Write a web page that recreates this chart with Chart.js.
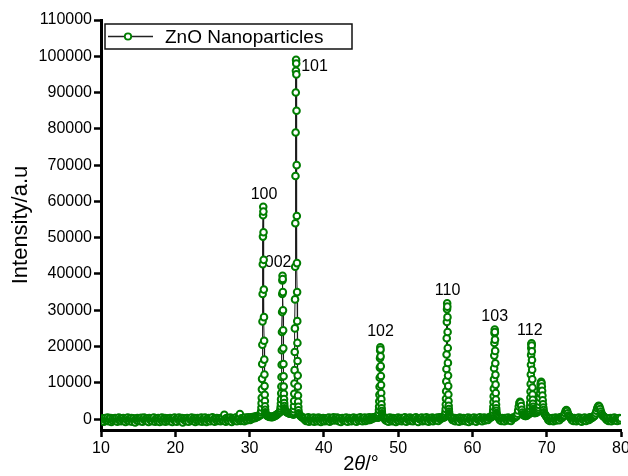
<!DOCTYPE html>
<html>
<head>
<meta charset="utf-8">
<script src="https://cdn.jsdelivr.net/npm/chart.js@4.4.1/dist/chart.umd.min.js"></script>
<style>
  html, body { margin: 0; padding: 0; background: #fff; }
  #wrap { width: 628px; height: 476px; }
</style>
</head>
<body>
<div id="wrap"><canvas id="xrd"></canvas></div>
<script>
// ── ZnO nanoparticle XRD pattern ────────────────────────────────────────────
const FONT = '"Liberation Sans", Arial, Helvetica, sans-serif';

// 2θ positions (deg), one block per region of the scan
const twoTheta = [
  10.0, 10.1, 10.2, 10.3, 10.4, 10.5, 10.6, 10.7, 10.8, 10.9,
  11.0, 11.1, 11.2, 11.3, 11.4, 11.5, 11.6, 11.7, 11.8, 11.9,
  12.0, 12.1, 12.2, 12.3, 12.4, 12.5, 12.6, 12.7, 12.8, 12.9,
  13.0, 13.1, 13.2, 13.3, 13.4, 13.5, 13.6, 13.7, 13.8, 13.9,
  14.0, 14.1, 14.2, 14.3, 14.4, 14.5, 14.6, 14.7, 14.8, 14.9,
  15.0, 15.1, 15.2, 15.3, 15.4, 15.5, 15.6, 15.7, 15.8, 15.9,
  16.0, 16.1, 16.2, 16.3, 16.4, 16.5, 16.6, 16.7, 16.8, 16.9,
  17.0, 17.1, 17.2, 17.3, 17.4, 17.5, 17.6, 17.7, 17.8, 17.9,
  18.0, 18.1, 18.2, 18.3, 18.4, 18.5, 18.6, 18.7, 18.8, 18.9,
  19.0, 19.1, 19.2, 19.3, 19.4, 19.5, 19.6, 19.7, 19.8, 19.9,
  20.0, 20.1, 20.2, 20.3, 20.4, 20.5, 20.6, 20.7, 20.8, 20.9,
  21.0, 21.1, 21.2, 21.3, 21.4, 21.5, 21.6, 21.7, 21.8, 21.9,
  22.0, 22.1, 22.2, 22.3, 22.4, 22.5, 22.6, 22.7, 22.8, 22.9,
  23.0, 23.1, 23.2, 23.3, 23.4, 23.5, 23.6, 23.7, 23.8, 23.9,
  24.0, 24.1, 24.2, 24.3, 24.4, 24.5, 24.6, 24.7, 24.8, 24.9,
  25.0, 25.1, 25.2, 25.3, 25.4, 25.5, 25.6, 25.7, 25.8, 25.9,
  26.0, 26.1, 26.2, 26.3, 26.4, 26.5, 26.6, 26.7, 26.8, 26.9,
  27.0, 27.1, 27.2, 27.3, 27.4, 27.5, 27.6, 27.7, 27.8, 27.9,
  28.0, 28.1, 28.2, 28.3, 28.4, 28.5, 28.6, 28.7, 28.8, 28.9,
  29.0, 29.1, 29.2, 29.3, 29.4, 29.5, 29.6, 29.7, 29.8, 29.9,
  30.0, 30.1, 30.2, 30.3, 30.4, 30.5, 30.6, 30.7, 30.8, 30.9,
  31.0, 31.1, 31.2, 31.3, 31.4,
  // (100)
  31.54, 31.56, 31.58, 31.60, 31.62, 31.64, 31.66, 31.68, 31.70, 31.72, 31.74, 31.76, 31.78, 31.80, 31.82, 31.84,
  31.86, 31.88, 31.90, 31.92, 31.94, 31.96, 31.98, 32.00, 32.02, 32.04, 32.06, 32.08, 32.10, 32.12, 32.14,
  32.2, 32.3, 32.4, 32.5, 32.6, 32.7, 32.8, 32.9, 33.0, 33.1, 33.2, 33.3, 33.4, 33.5, 33.6, 33.7, 33.8, 33.9, 34.0,
  // (002)
  34.14, 34.16, 34.18, 34.20, 34.22, 34.24, 34.26, 34.28, 34.30, 34.32, 34.34, 34.36, 34.38, 34.40, 34.42, 34.44,
  34.46, 34.48, 34.50, 34.52, 34.54, 34.56, 34.58, 34.60, 34.62, 34.64, 34.66, 34.68, 34.70, 34.72, 34.74,
  34.8, 34.9, 35.0, 35.1, 35.2, 35.3, 35.4, 35.5, 35.6, 35.7, 35.8,
  // (101)
  35.90, 35.92, 35.94, 35.96, 35.98, 36.00, 36.02, 36.04, 36.06, 36.08, 36.10, 36.12, 36.14, 36.16, 36.18, 36.20,
  36.22, 36.24, 36.26, 36.28, 36.30, 36.32, 36.34, 36.36, 36.38, 36.40, 36.42, 36.44, 36.46, 36.48, 36.50, 36.52,
  36.54, 36.56, 36.58, 36.60,
  36.7, 36.8, 36.9, 37.0, 37.1, 37.2,
  37.3, 37.4, 37.5, 37.6, 37.7, 37.8, 37.9, 38.0, 38.1, 38.2,
  38.3, 38.4, 38.5, 38.6, 38.7, 38.8, 38.9, 39.0, 39.1, 39.2,
  39.3, 39.4, 39.5, 39.6, 39.7, 39.8, 39.9, 40.0, 40.1, 40.2,
  40.3, 40.4, 40.5, 40.6, 40.7, 40.8, 40.9, 41.0, 41.1, 41.2,
  41.3, 41.4, 41.5, 41.6, 41.7, 41.8, 41.9, 42.0, 42.1, 42.2,
  42.3, 42.4, 42.5, 42.6, 42.7, 42.8, 42.9, 43.0, 43.1, 43.2,
  43.3, 43.4, 43.5, 43.6, 43.7, 43.8, 43.9, 44.0, 44.1, 44.2,
  44.3, 44.4, 44.5, 44.6, 44.7, 44.8, 44.9, 45.0, 45.1, 45.2,
  45.3, 45.4, 45.5, 45.6, 45.7, 45.8, 45.9, 46.0, 46.1, 46.2,
  46.3, 46.4, 46.5, 46.6, 46.7, 46.8, 46.9, 47.0, 47.1, 47.2,
  // (102)
  47.30, 47.32, 47.34, 47.36, 47.38, 47.40, 47.42, 47.44, 47.46, 47.48, 47.50, 47.52, 47.54, 47.56, 47.58, 47.60,
  47.62, 47.64, 47.66, 47.68, 47.70, 47.72, 47.74, 47.76, 47.78, 47.80, 47.82, 47.84, 47.86, 47.88, 47.90,
  48.0, 48.1, 48.2, 48.3, 48.4, 48.5, 48.6, 48.7, 48.8, 48.9,
  49.0, 49.1, 49.2, 49.3, 49.4, 49.5, 49.6, 49.7, 49.8, 49.9,
  50.0, 50.1, 50.2, 50.3, 50.4, 50.5, 50.6, 50.7, 50.8, 50.9,
  51.0, 51.1, 51.2, 51.3, 51.4, 51.5, 51.6, 51.7, 51.8, 51.9,
  52.0, 52.1, 52.2, 52.3, 52.4, 52.5, 52.6, 52.7, 52.8, 52.9,
  53.0, 53.1, 53.2, 53.3, 53.4, 53.5, 53.6, 53.7, 53.8, 53.9,
  54.0, 54.1, 54.2, 54.3, 54.4, 54.5, 54.6, 54.7, 54.8, 54.9,
  55.0, 55.1, 55.2, 55.3, 55.4, 55.5, 55.6, 55.7, 55.8, 55.9,
  56.0, 56.1, 56.2,
  // (110)
  56.30, 56.32, 56.34, 56.36, 56.38, 56.40, 56.42, 56.44, 56.46, 56.48, 56.50, 56.52, 56.54, 56.56, 56.58, 56.60,
  56.62, 56.64, 56.66, 56.68, 56.70, 56.72, 56.74, 56.76, 56.78, 56.80, 56.82, 56.84, 56.86, 56.88, 56.90,
  57.0, 57.1, 57.2, 57.3, 57.4, 57.5, 57.6, 57.7, 57.8, 57.9,
  58.0, 58.1, 58.2, 58.3, 58.4, 58.5, 58.6, 58.7, 58.8, 58.9,
  59.0, 59.1, 59.2, 59.3, 59.4, 59.5, 59.6, 59.7, 59.8, 59.9,
  60.0, 60.1, 60.2, 60.3, 60.4, 60.5, 60.6, 60.7, 60.8, 60.9,
  61.0, 61.1, 61.2, 61.3, 61.4, 61.5, 61.6, 61.7, 61.8, 61.9,
  62.0, 62.1, 62.2, 62.3, 62.4, 62.5, 62.6,
  // (103)
  62.70, 62.72, 62.74, 62.76, 62.78, 62.80, 62.82, 62.84, 62.86, 62.88, 62.90, 62.92, 62.94, 62.96, 62.98, 63.00,
  63.02, 63.04, 63.06, 63.08, 63.10, 63.12, 63.14, 63.16, 63.18, 63.20, 63.22, 63.24, 63.26, 63.28, 63.30,
  63.4, 63.5, 63.6, 63.7, 63.8, 63.9, 64.0, 64.1, 64.2, 64.3,
  64.4, 64.5, 64.6, 64.7, 64.8, 64.9, 65.0, 65.1, 65.2, 65.3,
  65.4, 65.5, 65.6, 65.7, 65.8, 65.9,
  // (200)
  66.00, 66.08, 66.16, 66.24, 66.32, 66.40, 66.48, 66.56, 66.64, 66.72, 66.80,
  66.9, 67.0, 67.1, 67.2, 67.3, 67.4, 67.5, 67.6,
  // (112)
  67.66, 67.68, 67.70, 67.72, 67.74, 67.76, 67.78, 67.80, 67.82, 67.84, 67.86, 67.88, 67.90, 67.92, 67.94, 67.96,
  67.98, 68.00, 68.02, 68.04, 68.06, 68.08, 68.10, 68.12, 68.14, 68.16, 68.18, 68.20, 68.22, 68.24, 68.26,
  68.3, 68.4, 68.5, 68.6, 68.7, 68.8,
  // (201)
  68.86, 68.90, 68.94, 68.98, 69.02, 69.06, 69.10, 69.14, 69.18, 69.22, 69.26, 69.30, 69.34, 69.38, 69.42, 69.46,
  69.50, 69.54, 69.58, 69.62,
  69.7, 69.8, 69.9, 70.0, 70.1, 70.2, 70.3, 70.4, 70.5, 70.6,
  70.7, 70.8, 70.9, 71.0, 71.1, 71.2, 71.3, 71.4, 71.5, 71.6,
  71.7, 71.8, 71.9, 72.0, 72.1, 72.2, 72.3,
  // (004)
  72.35, 72.45, 72.55, 72.65, 72.75, 72.85, 72.95,
  73.0, 73.1, 73.2, 73.3, 73.4, 73.5, 73.6, 73.7, 73.8, 73.9,
  74.0, 74.1, 74.2, 74.3, 74.4, 74.5, 74.6, 74.7, 74.8, 74.9,
  75.0, 75.1, 75.2, 75.3, 75.4, 75.5, 75.6, 75.7, 75.8, 75.9,
  76.0, 76.1, 76.2, 76.3,
  // (202)
  76.4, 76.5, 76.6, 76.7, 76.8, 76.9, 77.0, 77.1, 77.2, 77.3, 77.4, 77.5, 77.6,
  77.7, 77.8, 77.9, 78.0, 78.1, 78.2, 78.3, 78.4, 78.5, 78.6,
  78.7, 78.8, 78.9, 79.0, 79.1, 79.2, 79.3, 79.4, 79.5, 79.6,
  79.7, 79.8, 79.9, 80.0,
];

// intensity (a.u.), same layout as twoTheta
const intensity = [
  -300, 100, -500, 200, -700, 0, 300, -400, -100, 400,
  -600, 100, -300, 300, -800, -200, 200, -500, 0, 300,
  -400, 200, -700, -100, 400, -300, 100, -600, 200, -200,
  300, -500, 0, -800, 200, -300, 400, -100, -600, 100,
  -200, 300, -700, 0, 200, -400, -900, 100, -300, 300,
  -500, 200, 0, -600, 350, -200, -700, 100, 400, -300,
  0, -500, 200, -200, -800, 300, -100, -400, 200, -600,
  100, 400, -300, -700, 0, 200, -500, 300, -200, -800,
  200, -300, 400, -600, 0, -200, 300, -700, 100, -400,
  250, -100, -600, 300, -300, 100, -800, 200, -200, 450,
  -400, 0, -700, 200, -100, 400, -500, 100, -300, 300,
  -900, 0, 200, -400, 100, -600, 300, -200, -700, 200,
  100, -300, 400, -500, 0, -200, 300, -800, 200, -400,
  300, -100, -600, 200, -300, 400, -700, 0, 100, -500,
  400, -200, -800, 100, -300, 300, 0, -600, 200, -100,
  500, -400, 0, -700, 200, -200, 300, -500, 100, -300,
  200, -600, 100, -200, 400, -400, 1200, 0, -700, 300,
  -300, 200, -500, 100, 400, -200, -800, 300, 0, -400,
  100, -300, 500, -600, 200, -100, 300, 1400, -500, 200,
  -400, 300, 0, -600, 400, -200, 100, -300, 500, 0,
  300, -200, 500, 100, 600, 200, 400, 700, 300, 800,
  600, 900, 700, 1000, 1100,
  // (100)
  1200, 1800, 2300, 3200, 4400, 5900, 8200, 11100, 15200, 20500, 26900, 34500, 42700, 50300, 56200, 58500,
  57200, 51500, 43900, 35700, 28100, 21600, 16400, 12300, 9100, 6700, 5000, 3500, 2600, 1900, 1500,
  1300, 1100, 900, 800, 700, 600, 700, 600, 500, 600, 800, 700, 900, 1000, 1100, 1300, 1400, 1600, 1800,
  // (002)
  2000, 2400, 2900, 3500, 4300, 5500, 7100, 9000, 11600, 15000, 19000, 24000, 29500, 34500, 38200, 39500,
  38600, 35000, 30000, 24500, 19500, 15200, 11800, 9000, 7000, 5500, 4400, 3600, 3000, 2600, 2400,
  2300, 2100, 1900, 1800, 1700, 1600, 1500, 1500, 1600, 1700, 1900,
  // (101)
  1200, 1500, 2000, 2700, 3600, 5000, 7000, 9800, 13500, 18500, 25000, 33000, 42000, 54000, 67000, 79000,
  90000, 96000, 99000, 98000, 95000, 85000, 70000, 56000, 43000, 35000, 27000, 21000, 16000, 12000, 9000, 6500,
  4800, 3400, 2400, 1600,
  1300, 1000, 800, 600, 500, 400,
  200, -100, 300, -500, 100, -400, 500, -700, 0, 300,
  -500, 200, -300, 400, -700, 100, -200, 300, -600, 0,
  400, -300, 200, -800, 100, -400, 300, -100, -600, 200,
  0, -500, 300, -200, 400, -700, 100, -300, 200, -100,
  500, -400, 100, 300, -200, 400, 0, -600, 200, -300,
  -800, 100, 300, -400, 0, 200, -500, 400, -200, -700,
  100, 300, -300, 0, -600, 200, -100, 400, -500, 100,
  -200, -700, 300, 0, -400, 200, 500, -300, 100, -600,
  200, -100, 400, -500, 0, 300, -300, 100, 500, -200,
  300, 0, 400, 200, 500, 300, 600, 500, 700, 600,
  // (102)
  400, 500, 650, 850, 1200, 1700, 2500, 3500, 4900, 6700, 8900, 11400, 14200, 16800, 18900, 19800,
  19200, 17300, 14600, 11900, 9400, 7200, 5500, 4100, 3000, 2200, 1600, 1200, 900, 650, 500,
  600, 400, 200, -300, 100, -500, 300, -700, 0, 400,
  -200, 100, -600, 300, -400, 200, 0, -800, 100, -300,
  400, -500, 200, -100, 300, -600, 0, 200, -400, 500,
  -200, -700, 100, 300, -300, 0, 400, -500, 200, -100,
  -600, 300, 0, -300, 500, -400, 100, -800, 200, 0,
  300, -200, 400, -600, 100, -300, 200, -500, 500, -100,
  0, -700, 300, -200, 100, -400, 400, -600, 200, 0,
  -300, 300, -100, 400, -500, 200, 500, 0, 300, 400,
  500, 400, 600,
  // (110)
  600, 800, 1100, 1500, 2000, 2800, 4000, 5600, 7700, 10400, 13800, 17800, 22300, 26800, 30300, 31900,
  31000, 28100, 24000, 19600, 15500, 12000, 9100, 6800, 5000, 3700, 2800, 2100, 1600, 1200, 900,
  700, 500, 300, -200, 100, -400, 300, -600, 0, 200,
  -300, 100, -700, 400, -100, 200, -500, 0, 300, -400,
  200, -600, 100, -200, 400, -800, 0, 300, -300, 100,
  -500, 200, 400, -400, 0, -700, 300, -100, 200, -300,
  500, -200, 0, -600, 300, -100, 400, -400, 200, 0,
  300, -200, 400, 500, 300, 600, 700,
  // (103)
  700, 900, 1100, 1400, 1900, 2500, 3400, 4700, 6300, 8400, 11000, 14000, 17500, 21000, 23700, 24700,
  24000, 21900, 18800, 15400, 12200, 9500, 7200, 5400, 4000, 3000, 2300, 1700, 1300, 1000, 800,
  700, 500, 200, -300, 100, -500, 300, -200, 0, -600,
  300, -100, 200, -400, 400, 0, -300, 200, -500, 300,
  100, 400, 300, 600, 500, 800,
  // (200)
  900, 1500, 2400, 3500, 4400, 4800, 4500, 3600, 2600, 1800, 1300,
  1100, 1000, 900, 900, 1000, 1100, 1300, 1400,
  // (112)
  1500, 1700, 2000, 2400, 2900, 3600, 4600, 5900, 7600, 9700, 12300, 15000, 17700, 19600, 20700, 20900,
  20300, 18700, 16300, 13600, 11000, 8700, 6800, 5300, 4200, 3400, 2800, 2400, 2100, 1900, 1800,
  1700, 1700, 1700, 1800, 1900, 2100,
  // (201)
  2300, 2700, 3200, 3900, 4800, 5900, 7100, 8400, 9500, 10100, 10300, 9900, 9000, 7800, 6500, 5200,
  4100, 3200, 2500, 1900,
  1500, 1200, 900, 600, 300, -200, 100, -500, 200, -300,
  0, 300, -600, 100, -200, 400, -400, 200, -100, 300,
  -300, 500, 200, 600, 400, 700, 900,
  // (004)
  1100, 1700, 2300, 2500, 2200, 1600, 1000,
  900, 700, 400, 100, -300, 200, -500, 300, -100, 0,
  -600, 200, -200, 400, -400, 100, 300, -700, 0, 200,
  -300, 400, -100, -500, 200, 0, 300, -200, 500, 100,
  400, 300, 600, 700,
  // (202)
  800, 1100, 1600, 2300, 3000, 3500, 3700, 3400, 2800, 2100, 1500, 1100, 800,
  700, 500, 300, 0, -200, 200, -500, 100, -300, 300,
  -600, 0, 200, -200, 400, -400, 100, -100, -500, 200,
  0, 300, -300, 200,
];

const xTicks = [10, 20, 30, 40, 50, 60, 70, 80];
const yTicks = [0, 10000, 20000, 30000, 40000, 50000, 60000, 70000, 80000, 90000, 100000, 110000];

// Miller indices written next to the reflections (label anchor in data units)
const peakNames  = ['100', '002', '101', '102', '110', '103', '112'];
const peakLabelX = [31.95, 33.85, 38.75, 47.63, 56.65, 63.0, 67.72];
const peakLabelY = [62000, 43100, 97100, 24000, 35400, 28200, 24500];

if (twoTheta.length !== intensity.length) console.error('length mismatch', twoTheta.length, intensity.length);

const GREEN = '#007d00';

const annotations = {
  id: 'annotations',
  beforeDatasetsDraw(chart) {
    const { ctx, scales: { x, y } } = chart;
    ctx.save();
    ctx.font = '16px ' + FONT;
    ctx.fillStyle = '#000';
    ctx.textAlign = 'center';
    ctx.textBaseline = 'middle';
    peakNames.forEach((t, i) => {
      ctx.fillText(t, x.getPixelForValue(peakLabelX[i]), y.getPixelForValue(peakLabelY[i]));
    });
    ctx.restore();
  },
  afterDraw(chart) {
    const { ctx, chartArea: a } = chart;
    ctx.save();

    // legend box
    const bx = a.left + 4, by = a.top + 4, bw = 247, bh = 25;
    ctx.fillStyle = '#fff';
    ctx.fillRect(bx, by, bw, bh);
    ctx.strokeStyle = '#111';
    ctx.lineWidth = 1.5;
    ctx.strokeRect(bx, by, bw, bh);
    const my = by + bh / 2;
    ctx.strokeStyle = '#222';
    ctx.lineWidth = 1.5;
    ctx.beginPath();
    ctx.moveTo(bx + 3, my);
    ctx.lineTo(bx + 48, my);
    ctx.stroke();
    ctx.beginPath();
    ctx.arc(bx + 23, my, 3.2, 0, Math.PI * 2);
    ctx.fillStyle = '#fff';
    ctx.fill();
    ctx.strokeStyle = GREEN;
    ctx.lineWidth = 1.8;
    ctx.stroke();
    ctx.fillStyle = '#000';
    ctx.font = '19px ' + FONT;
    ctx.textAlign = 'left';
    ctx.textBaseline = 'middle';
    ctx.fillText('ZnO Nanoparticles', bx + 60, my + 1);

    // x-axis title: 2θ/° with italic theta
    const parts = [['2', ''], ['θ', 'italic '], ['/°', '']];
    let total = 0;
    parts.forEach(p => { ctx.font = p[1] + '20px ' + FONT; total += ctx.measureText(p[0]).width; });
    let tx = (a.left + a.right) / 2 - total / 2;
    ctx.textBaseline = 'alphabetic';
    parts.forEach(p => {
      ctx.font = p[1] + '20px ' + FONT;
      ctx.fillText(p[0], tx, 470);
      tx += ctx.measureText(p[0]).width;
    });
    ctx.restore();
  },
};

new Chart(document.getElementById('xrd'), {
  type: 'scatter',
  data: {
    datasets: [{
      label: 'ZnO Nanoparticles',
      data: twoTheta.map((t, i) => ({ x: t, y: intensity[i] })),
      showLine: true,
      borderColor: '#1c1c1c',
      borderWidth: 1,
      pointStyle: 'circle',
      pointRadius: 3.3,
      pointBorderWidth: 2,
      pointBorderColor: GREEN,
      pointBackgroundColor: '#fff',
    }],
  },
  options: {
    responsive: true,
    maintainAspectRatio: false,
    animation: false,
    layout: { padding: { left: 0, right: 7, top: 20, bottom: 0 } },
    plugins: {
      legend:  { display: false },
      tooltip: { enabled: false },
    },
    scales: {
      x: {
        type: 'linear',
        min: 10,
        max: 80,
        afterBuildTicks: s => { s.ticks = xTicks.map(v => ({ value: v })); },
        afterFit: s => { s.height = 46; s.paddingLeft = 0; s.paddingRight = 0; },
        grid:   { drawOnChartArea: false, tickLength: 7, tickWidth: 2.5, tickColor: '#000' },
        border: { color: '#000', width: 3 },
        ticks:  { color: '#000', font: { family: FONT, size: 16 }, padding: 2, maxRotation: 0, autoSkip: false },
      },
      y: {
        type: 'linear',
        min: -3000,
        max: 110000,
        afterBuildTicks: s => { s.ticks = yTicks.map(v => ({ value: v })); },
        afterFit: s => { s.width = 101; s.paddingTop = 0; s.paddingBottom = 0; },
        grid:   { drawOnChartArea: false, tickLength: 7, tickWidth: 2.5, tickColor: '#000' },
        border: { color: '#000', width: 3 },
        ticks:  { color: '#000', font: { family: FONT, size: 16 }, padding: 2, autoSkip: false, callback: v => String(v) },
        title:  { display: true, text: 'Intensity/a.u', color: '#000', font: { family: FONT, size: 22 }, padding: { top: 8, bottom: 0 } },
      },
    },
  },
  plugins: [annotations],
});
</script>
</body>
</html>
